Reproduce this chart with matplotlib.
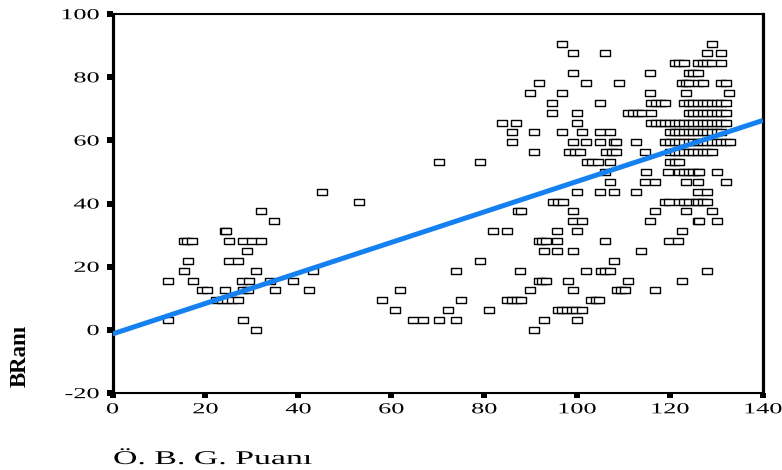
import numpy as np
import matplotlib
matplotlib.use("Agg")
import matplotlib.pyplot as plt
from matplotlib.path import Path
from matplotlib.patheffects import AbstractPathEffect
from matplotlib.transforms import Affine2D, offset_copy

# ---- data (x: Ö. B. G. Puanı, y: B Ranı) ----
obg_puan = [
    96.7, 129,                                                            # 90.6
    99, 106, 128, 131,                                                    # 87.5
    121, 122, 123, 126, 127, 128, 129, 131,                               # 84.4
    99, 115.7, 124, 125, 126,                                             # 81.25
    91.8, 102, 108.9, 122.5, 123.5, 124, 126, 127, 131, 132,              # 78.1
    89.8, 96.7, 115.7, 123.5, 132.7,                                      # 75.0
    94.6, 104.9, 116, 117, 118, 119, 123, 124, 125, 126, 127, 128, 129, 130, 131, 132,   # 71.9
    94.6, 100, 111, 112, 113, 114, 116, 124, 125, 126, 127, 128, 129, 130, 131, 132,     # 68.75
    83.9, 86.9, 100, 116, 117, 118, 119, 120, 121, 122, 123, 124, 125, 126, 127, 128, 129, 130, 131, 132,  # 65.6
    86, 90.8, 96.7, 101, 104.9, 107.1, 120, 121, 122, 123, 124, 125, 126, 127, 128, 129, 130, 131,         # 62.5
    86, 99, 102, 104.9, 108, 108.4, 112.7, 119, 120, 121, 122, 123, 124, 125, 126, 127, 128, 129, 130, 131, 132, 133,  # 59.4
    90.8, 98.3, 99.5, 100.7, 106.3, 107.4, 108.4, 114.7, 120, 121, 122, 123, 124, 125, 126, 127, 128, 129,  # 56.25
    70.2, 79, 102.2, 103.3, 104.4, 107, 120, 121, 122,                    # 53.1
    106, 114.8, 119.6, 122, 123, 124, 125, 126, 126.3, 130,               # 50.0
    107, 114.7, 116.8, 123.5, 126, 132,                                   # 46.9
    45.1, 100, 104.9, 107.9, 112.7, 126, 128,                             # 43.75
    53, 94.7, 95.9, 96.9, 119, 119.8, 122, 123, 124, 125.5, 126, 127, 128,  # 40.6
    32, 87.3, 87.9, 99, 116.8, 123.5, 129,                                # 37.5
    34.8, 99, 101, 115.7, 126, 126.3, 130,                                # 34.4
    24.2, 24.4, 81.9, 84.9, 95.7, 100, 122.5,                             # 31.25
    15.3, 16.1, 17, 25.1, 28, 30, 32, 91.8, 92.5, 93.2, 95.7, 106, 119.7, 121.6,  # 28.1
    29, 92.8, 95.7, 99, 113.7,                                            # 25.0
    16.3, 25.1, 27.1, 79, 107.9,                                          # 21.9
    15.3, 30.9, 43.2, 74, 87.8, 102, 105.2, 106, 107, 128,                # 18.75
    11.9, 17.3, 27.8, 29.3, 33.9, 38.8, 91.8, 92.5, 93.2, 98, 111, 122.5,  # 15.6
    19.3, 20.3, 24.2, 28, 29.2, 34.9, 42.2, 61.8, 89.8, 99, 108.5, 109.5, 110.3, 116.8,  # 12.5
    22.3, 23.5, 24.6, 25.7, 26.9, 57.9, 75.1, 85, 86, 87, 88, 103, 104, 104.8,  # 9.4
    60.9, 72.1, 81, 95.8, 96.8, 97.8, 98.8, 99.8, 101,                    # 6.25
    11.9, 28, 64.7, 66.8, 70.2, 74, 92.8, 100,                            # 3.1
    30.9, 90.8,                                                           # 0
]
b_rate = (
    [90.6] * 2 + [87.5] * 4 + [84.4] * 8 + [81.25] * 5 + [78.1] * 10 +
    [75.0] * 5 + [71.9] * 16 + [68.75] * 16 + [65.6] * 20 + [62.5] * 18 +
    [59.4] * 22 + [56.25] * 18 + [53.1] * 9 + [50.0] * 10 + [46.9] * 6 +
    [43.75] * 7 + [40.6] * 13 + [37.5] * 7 + [34.4] * 7 + [31.25] * 7 +
    [28.1] * 14 + [25.0] * 5 + [21.9] * 5 + [18.75] * 10 + [15.6] * 12 +
    [12.5] * 14 + [9.4] * 14 + [6.25] * 9 + [3.1] * 8 + [0.0] * 2
)

# fit line
fit_intercept = -1.3
fit_slope = 0.483

x_ticks = [0, 20, 40, 60, 80, 100, 120, 140]
y_ticks = [-20, 0, 20, 40, 60, 80, 100]
x_label = "Ö. B. G. Puanı"
y_label = "BRanı"


class HStretch(AbstractPathEffect):
    """Draw text glyphs stretched horizontally (the reference is a
    horizontally stretched image)."""

    def __init__(self, sx, anchor="center"):
        super().__init__()
        self.sx = sx
        self.anchor = anchor

    def draw_path(self, renderer, gc, tpath, affine, rgbFace=None):
        ext = tpath.get_extents()
        if self.anchor == "left":
            a = 0.0
        elif self.anchor == "right":
            a = ext.x1
        else:
            a = 0.5 * (ext.x0 + ext.x1)
        t = Affine2D().translate(-a, 0).scale(self.sx, 1).translate(a, 0) + affine
        renderer.draw_path(gc, tpath, t, rgbFace)


def rect_marker(x0, x1, y0, y1):
    return Path([(x0, y0), (x1, y0), (x1, y1), (x0, y1), (x0, y0)],
                [Path.MOVETO, Path.LINETO, Path.LINETO, Path.LINETO,
                 Path.CLOSEPOLY])


plt.rcParams["axes.unicode_minus"] = False
serif = ["Liberation Serif", "DejaVu Serif"]
PX = 72.0 / 100.0  # points per pixel

fig = plt.figure(figsize=(7.82, 4.70), dpi=100)
ax = fig.add_axes([0.1439, 0.1638, 0.9757 - 0.1439, 0.9702 - 0.1638])

box = rect_marker(-1, 1, -0.58, 0.58)
n = min(len(obg_puan), len(b_rate))
ax.scatter(obg_puan[:n], b_rate[:n], marker=box, s=7.2 ** 2,
           facecolors="white", edgecolors="black", linewidths=1.0, zorder=2)

xs = np.array([x_ticks[0], x_ticks[-1]], dtype=float)
ax.plot(xs, fit_intercept + fit_slope * xs, color="#1581F0", lw=3.6,
        solid_capstyle="butt", zorder=3)

ax.set_xlim(x_ticks[0], x_ticks[-1])
ax.set_ylim(y_ticks[0], y_ticks[-1])
ax.set_xticks(x_ticks)
ax.set_yticks(y_ticks)
ax.spines["left"].set_linewidth(2.3)
ax.spines["right"].set_linewidth(2.3)
ax.spines["top"].set_linewidth(1.5)
ax.spines["bottom"].set_linewidth(1.5)
ax.tick_params(axis="both", length=0, labelbottom=False, labelleft=False)

# tick marks: short, wide black blocks outside the spines
xtick_mark = rect_marker(-3.0, 3.0, -4.6, 0.0)     # pixel-proportioned
ytick_mark = rect_marker(-6.2, 0.0, -2.8, 2.8)
ax.plot(x_ticks, [0] * len(x_ticks), transform=ax.get_xaxis_transform(),
        ls="none", marker=xtick_mark, ms=2 * 4.6 * PX, mfc="black", mec="black",
        mew=0, clip_on=False, zorder=5)
ax.plot([0] * len(y_ticks), y_ticks, transform=ax.get_yaxis_transform(),
        ls="none", marker=ytick_mark, ms=2 * 6.2 * PX, mfc="black", mec="black",
        mew=0, clip_on=False, zorder=5)

# tick labels as text at the tick positions (stretched like the reference)
xlab_tr = offset_copy(ax.get_xaxis_transform(), fig=fig, y=-14.6, units="points")
for v in x_ticks:
    ax.text(v, 0, str(v), transform=xlab_tr, ha="center", va="baseline",
            family=serif, fontsize=11, clip_on=False,
            path_effects=[HStretch(1.72, "center")])
ylab_tr = offset_copy(ax.get_yaxis_transform(), fig=fig, x=-9.6, y=-3.7,
                      units="points")
for v in y_ticks:
    ax.text(0, v, str(v), transform=ylab_tr, ha="right", va="baseline",
            family=serif, fontsize=11, clip_on=False,
            path_effects=[HStretch(1.72, "right")])

fig.text(20 / 782, 1 - 356 / 470, y_label, rotation=90, ha="center",
         va="center", family=serif, fontsize=16.5, fontweight="bold")
fig.text(113 / 782, 1 - 464 / 470, x_label, ha="left", va="baseline",
         family=serif, fontsize=14,
         path_effects=[HStretch(1.74, "left")])

fig.savefig("out.png", dpi=100)

# self-check: are the tick blocks really in the picture?
img = plt.imread("out.png")[..., :3].mean(axis=2)
xt = img[395:399, 202:209]
yt = img[11:18, 105:110]
if xt.min() > 0.5 or yt.min() > 0.5:
    raise RuntimeError("tick blocks missing: x-tick region\n%s\ny-tick region\n%s"
                       % (np.round(img[390:400, 200:212], 2),
                          np.round(img[8:20, 102:116], 2)))
